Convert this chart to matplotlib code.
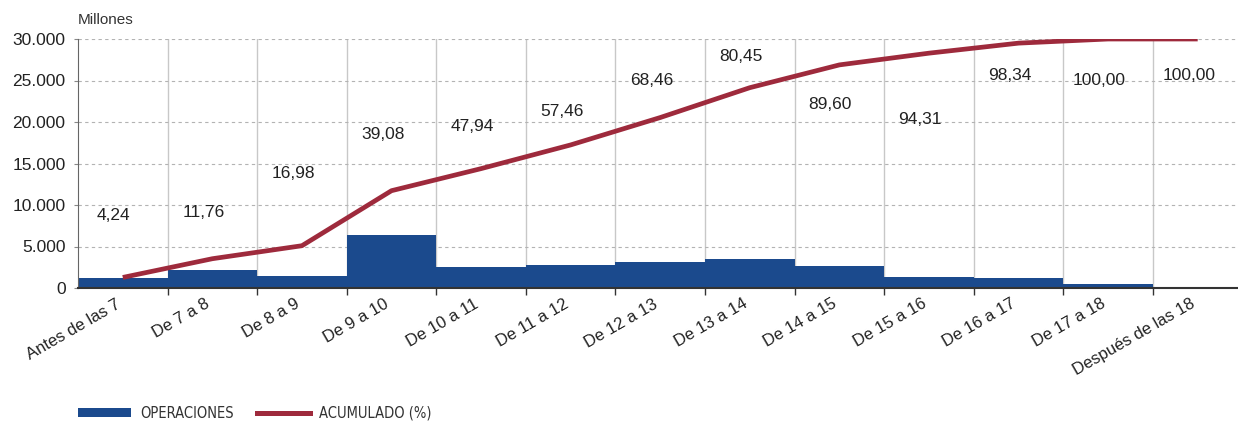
import matplotlib.pyplot as plt
from matplotlib import font_manager
from matplotlib.patches import Patch
from matplotlib.lines import Line2D
from matplotlib.ticker import FuncFormatter, MultipleLocator

# datos
categorias = ['Antes de las 7', 'De 7 a 8', 'De 8 a 9', 'De 9 a 10', 'De 10 a 11',
              'De 11 a 12', 'De 12 a 13', 'De 13 a 14', 'De 14 a 15', 'De 15 a 16',
              'De 16 a 17', 'De 17 a 18', 'Después de las 18']
operaciones = [1200, 2130, 1490, 6420, 2520, 2720, 3170, 3440, 2640, 1320, 1180, 450, 0]
acumulado = [4.24, 11.76, 16.98, 39.08, 47.94, 57.46, 68.46, 80.45, 89.60, 94.31, 98.34, 100.00, 100.00]
etiquetas = ['4,24', '11,76', '16,98', '39,08', '47,94', '57,46', '68,46', '80,45',
             '89,60', '94,31', '98,34', '100,00', '100,00']

# altura (en millones) donde va cada etiqueta, solo para colocarlas
pos_etiquetas = [8700, 9150, 13850, 18550, 19500, 21300, 24950, 27850, 22150, 20350, 25550, 25050, 25550]

azul = '#1b4a8d'
rojo = '#9e2a3c'
plt.rcParams['font.family'] = ['Liberation Sans', 'DejaVu Sans']

# la leyenda del original usa una letra estrecha, se busca una si hay
leyenda_font = {'family': ['Liberation Sans', 'DejaVu Sans'], 'size': 9}
for f in font_manager.fontManager.ttflist:
    nombre = f.name + ' ' + str(f.stretch)
    if ('Narrow' in nombre or 'ondensed' in nombre) and f.weight in (400, 'normal', 'regular') \
            and f.style == 'normal' and 'Mono' not in f.name and 'Serif' not in f.name:
        leyenda_font = font_manager.FontProperties(fname=f.fname, size=10.5)
        break

fig = plt.figure(figsize=(12.38, 4.21), dpi=100)
ax = fig.add_axes([78 / 1238, 133 / 421, 1 - 78 / 1238, 249 / 421])

x = list(range(len(categorias)))
ax.bar(x, operaciones, width=1.0, color=azul, edgecolor='none', zorder=2)

ax.set_xlim(-0.5, 12.45)
ax.set_ylim(0, 30000)

# rejilla
ax.yaxis.set_major_locator(MultipleLocator(5000))
ax.yaxis.set_major_formatter(FuncFormatter(lambda v, p: f'{int(v):,}'.replace(',', '.')))
ax.grid(axis='y', color='#b3b3b3', linestyle=(0, (3, 3)), linewidth=0.8, zorder=0)
for b in range(1, len(categorias)):
    ax.axvline(b - 0.5, color='#c8c8c8', linewidth=1, zorder=1)

ax.set_xticks(x)
ax.set_xticklabels(categorias, rotation=30, ha='right', fontsize=12, color='#222222')
ax.set_xticks([b - 0.5 for b in range(1, len(categorias))], minor=True)
ax.tick_params(axis='x', which='major', length=0, pad=6)
ax.tick_params(axis='x', which='minor', length=5, color='#333333', width=1)
ax.tick_params(axis='y', length=3, color='#888888', labelsize=12.5, labelcolor='#222222', pad=6)

ax.spines['top'].set_visible(False)
ax.spines['right'].set_visible(False)
ax.spines['left'].set_color('#666666')
ax.spines['bottom'].set_color('#333333')
ax.spines['bottom'].set_linewidth(1.5)

# linea acumulada sobre un eje en %
ax2 = ax.twinx()
ax2.set_ylim(0, 100)
ax2.plot(x, acumulado, color=rojo, linewidth=3.4, solid_capstyle='butt', zorder=3)
ax2.axis('off')

for i in x:
    ax.text(i - 0.1, pos_etiquetas[i], etiquetas[i], ha='center', va='center',
            fontsize=12.5, color='#222222', zorder=4)

fig.text(78 / 1238, 1 - 20 / 421, 'Millones', ha='left', va='center', fontsize=11, color='#333333')

handles = [Patch(facecolor=azul, edgecolor='none'), Line2D([0], [0], color=rojo, linewidth=3.6)]
fs = leyenda_font.get_size() if hasattr(leyenda_font, 'get_size') else leyenda_font['size']
px = fs * 100 / 72
fig.legend(handles, ['OPERACIONES', 'ACUMULADO (%)'], loc='center left',
           bbox_to_anchor=(74 / 1238, 1 - 413 / 421), ncol=2, frameon=False,
           prop=leyenda_font, borderaxespad=0, borderpad=0.3,
           handlelength=53 / px, handleheight=8 / px,
           handletextpad=9 / px, columnspacing=23 / px,
           labelcolor='#333333')

fig.savefig('out.png', dpi=100)
